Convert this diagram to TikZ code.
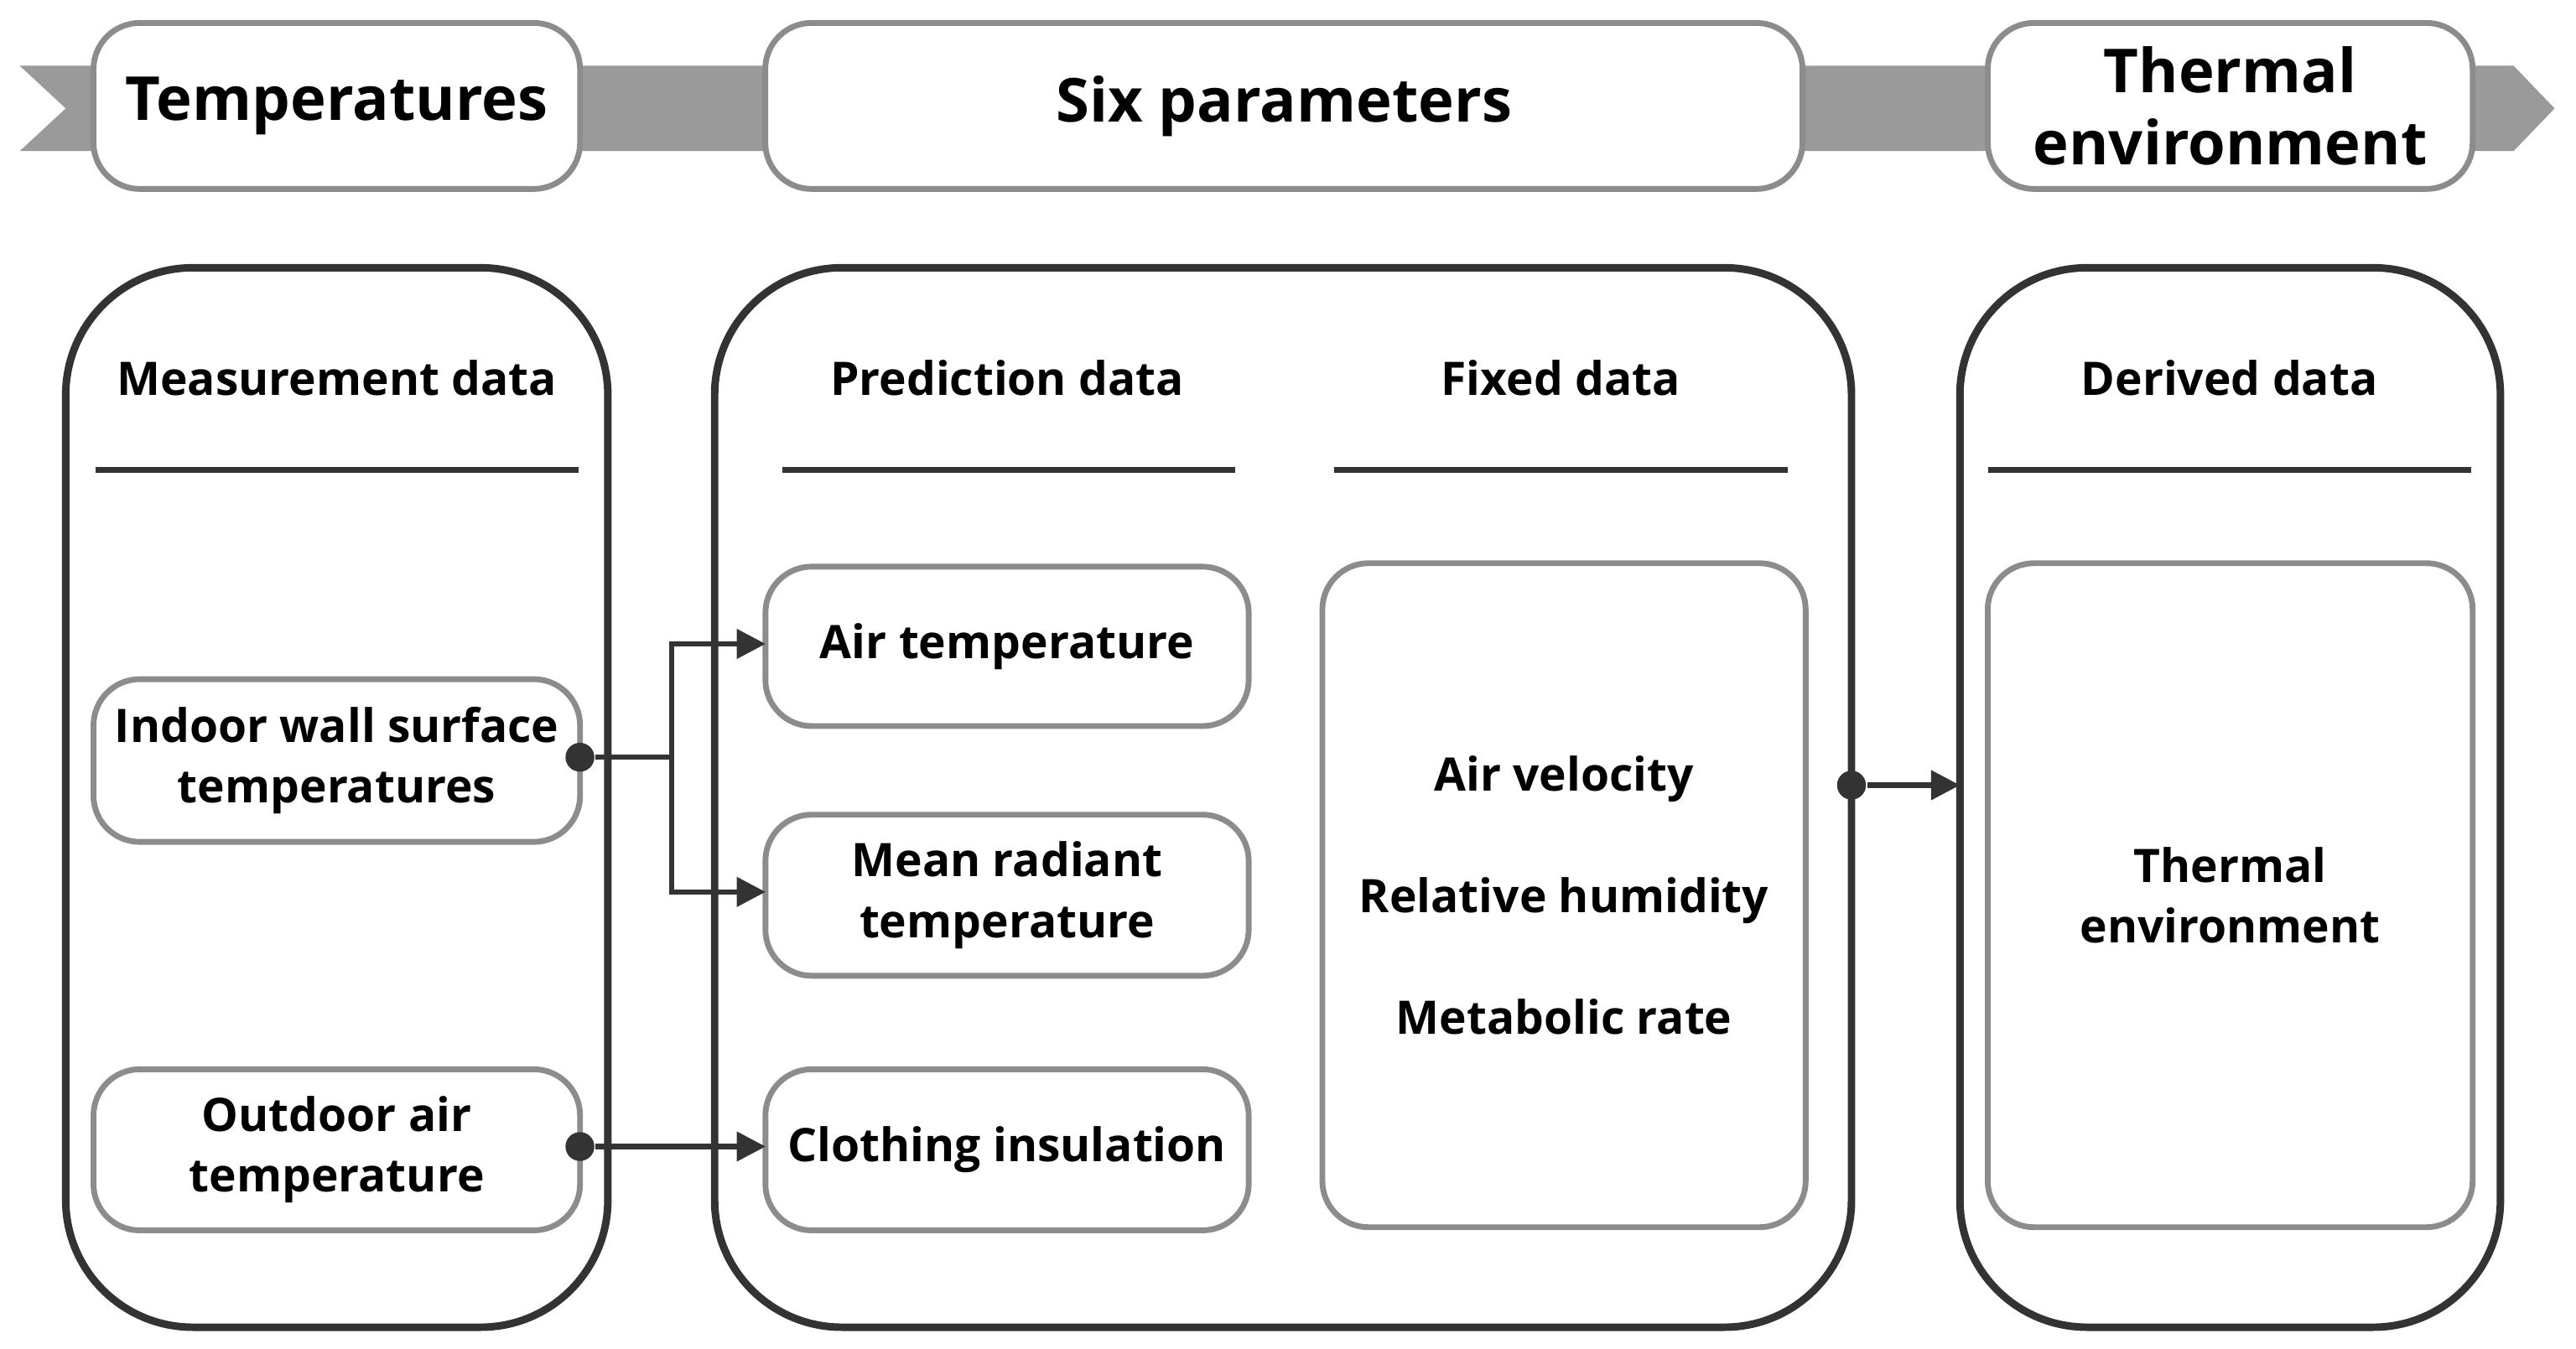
\documentclass[tikz,border=0pt]{standalone}
\usepackage{fontspec}
\setmainfont{Open Sans}
\usetikzlibrary{positioning}
\usetikzlibrary{backgrounds}
\usetikzlibrary{calc}
\usetikzlibrary{arrows.meta}
\definecolor{bandgray}{HTML}{9A9A9A}
\definecolor{edgegray}{HTML}{8C8C8C}
\definecolor{darkedge}{HTML}{333333}
\tikzset{
	title/.style={draw=edgegray,line width=1pt,fill=white,rounded corners=8pt,align=center,font=\bfseries\fontsize{10.5}{12.5}\selectfont},
	panel/.style={draw=darkedge,line width=1.3pt,rounded corners=22pt},
	item/.style={draw=edgegray,line width=1pt,fill=white,rounded corners=8pt,align=center,font=\bfseries\fontsize{8}{10.5}\selectfont},
	head/.style={font=\bfseries\fontsize{8}{10}\selectfont},
	link/.style={darkedge,line width=0.9pt,-{Triangle[length=5pt,width=5pt]}},
	dot/.style={circle,fill=darkedge,inner sep=0pt,minimum size=5pt}
}
\begin{document}
\begin{tikzpicture}[x=0.01cm,y=-0.01cm]
		\useasboundingbox (0,0) rectangle (1568,821);

		% band behind the titles
		\fill[bandgray] (12,40) -- (1530,40) -- (1555,66) -- (1530,92) -- (12,92) -- (40,66) -- cycle;

		\node[title,minimum width=2.96cm,minimum height=1.01cm] at (205,64.5) (tTemp) {Temperatures};
		\node[title,minimum width=6.31cm,minimum height=1.01cm] at (781.5,64.5) (tSix) {Six parameters};
		\node[title,minimum width=2.95cm,minimum height=1.01cm] at (1357.5,64.5) (tEnv) {Thermal\\environment};

		% panels
		\draw[panel] (40,163) rectangle (370,808);
		\draw[panel] (435,163) rectangle (1127,808);
		\draw[panel] (1193,163) rectangle (1522,808);
		\coordinate (derPanel) at (1193,478);

		\node[head] at (205,230) (hMeas) {Measurement data};
		\node[head] at (613,230) (hPred) {Prediction data};
		\node[head] at (950,230) (hFix) {Fixed data};
		\node[head] at (1357,230) (hDer) {Derived data};
		\draw[darkedge,line width=1pt] (58,286) -- (352,286);
		\draw[darkedge,line width=1pt] (476,286) -- (752,286);
		\draw[darkedge,line width=1pt] (812,286) -- (1088,286);
		\draw[darkedge,line width=1pt] (1210,286) -- (1504,286);

		% data boxes
		\node[item,minimum width=2.96cm,minimum height=0.99cm] at (205,463) (wall) {Indoor wall surface\\temperatures};
		\node[item,minimum width=2.96cm,minimum height=0.98cm] at (205,700) (outdoor) {Outdoor air\\temperature};
		\node[item,minimum width=2.94cm,minimum height=0.97cm] at (613,393.5) (air) {Air temperature};
		\node[item,minimum width=2.94cm,minimum height=0.98cm] at (613,545) (mrt) {Mean radiant\\temperature};
		\node[item,minimum width=2.94cm,minimum height=0.98cm] at (613,700) (clo) {Clothing insulation};
		\node[item,minimum width=2.94cm,minimum height=4.04cm,font=\bfseries\fontsize{8}{21}\selectfont] at (952,545) (fixed) {Air velocity\\Relative humidity\\Metabolic rate};
		\node[item,minimum width=2.95cm,minimum height=4.04cm] at (1357.5,545) (derived) {Thermal\\environment};

		% connectors
		\node[dot] at (353,461) (wd) {};
		\node[dot] at (353,698) (od) {};
		\coordinate (split) at (409,461);
		\node[dot] at (1127,478) (pd) {};
		\draw[darkedge,line width=0.9pt] (wd) -- (split);
		\draw[link] (split) |- (466,392);
		\draw[link] (split) |- (466,543);
		\draw[link] (od) -- (466,698);
		\draw[link] (pd) -- (derPanel);
	\end{tikzpicture}
\end{document}
